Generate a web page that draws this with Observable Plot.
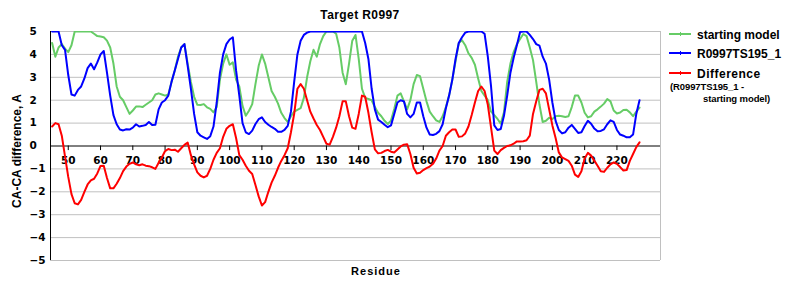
<!DOCTYPE html>
<html><head><meta charset="utf-8">
<script src="https://cdn.jsdelivr.net/npm/d3@7"></script>
<script src="https://cdn.jsdelivr.net/npm/@observablehq/plot@0.6"></script>
<style>
body{margin:0;background:#fff}
#wrap{position:relative;width:800px;height:300px;}
</style></head><body><div id="wrap"></div>
<script>
const firstResidue = 45;
const startingModel = [
 4.5, 3.9, 4.3, 4.45, 4.25, 4.1, 4.4, 5.0, 5.0, 5.0,
 5.0, 5.0, 5.0, 4.9, 4.8, 4.78, 4.75, 4.6, 4.3, 3.6,
 2.6, 2.15, 2.0, 1.7, 1.4, 1.55, 1.72, 1.73, 1.7, 1.8,
 1.9, 2.0, 2.25, 2.3, 2.25, 2.2, 2.25, 2.8, 3.3, 3.9,
 4.3, 4.45, 3.6, 2.8, 2.15, 1.8, 1.79, 1.83, 1.69, 1.62,
 1.47, 1.7, 2.9, 3.6, 4.0, 3.55, 3.65, 2.9, 2.6, 1.75,
 1.32, 1.54, 1.83, 2.7, 3.5, 4.0, 3.6, 3.0, 2.4, 2.15,
 1.85, 1.45, 1.22, 1.05, 1.3, 1.5, 1.58, 1.65, 2.1, 3.0,
 3.7, 4.2, 3.9, 4.45, 4.8, 5.0, 5.0, 5.0, 4.9, 4.3,
 3.2, 2.7, 3.6, 4.6, 4.85, 3.8, 2.5, 2.1, 2.05, 2.0,
 1.7, 1.45, 1.3, 1.1, 0.96, 1.11, 1.62, 2.2, 2.3, 1.95,
 1.6, 2.0, 2.7, 3.1, 3.05, 2.5, 1.95, 1.5, 1.3, 1.12,
 1.05, 1.3, 1.7, 2.2, 2.9, 3.7, 4.5, 4.62, 4.4, 4.05,
 3.85, 3.55, 2.95, 2.4, 2.2, 2.0, 1.5, 1.35, 1.18, 0.98,
 1.47, 2.8, 3.6, 4.1, 4.45, 4.67, 4.89, 4.8, 4.3, 3.75,
 2.8, 1.8, 1.05, 1.1, 1.23, 1.18, 1.3, 1.32, 1.3, 1.27,
 1.3, 1.7, 2.2, 2.2, 1.9, 1.45, 1.25, 1.3, 1.5, 1.6,
 1.72, 1.85, 2.05, 1.95, 1.55, 1.42, 1.46, 1.57, 1.58, 1.47,
 1.3, 1.5, 1.68
];
const targetModel = [
 5, 5, 5, 4.4, 4.2, 3.1, 2.25, 2.2, 2.45, 2.6,
 2.95, 3.4, 3.6, 3.35, 3.65, 4.0, 4.15, 3.2, 2.2, 1.35,
 0.95, 0.72, 0.68, 0.73, 0.72, 0.8, 0.95, 0.85, 0.88, 0.92,
 1.05, 0.92, 0.93, 1.6, 1.9, 2.0, 2.2, 2.8, 3.3, 3.8,
 4.3, 4.45, 3.5, 2.5, 1.4, 0.6, 0.45, 0.38, 0.31, 0.43,
 0.85, 1.9, 3.2, 4.0, 4.45, 4.65, 4.75, 3.3, 2.2, 1.0,
 0.6, 0.52, 0.67, 0.96, 1.17, 1.25, 1.05, 0.93, 0.83, 0.75,
 0.62, 0.62, 0.7, 0.88, 1.5, 2.8, 4.0, 4.6, 4.85, 4.95,
 5, 5, 5, 5, 5, 5, 5, 5, 5, 5,
 5, 5, 5, 5, 5, 5, 5, 4.5, 3.8, 2.5,
 1.6, 1.15, 1.05, 0.93, 0.82, 0.9, 1.4, 1.9, 2.0, 1.95,
 1.4, 1.25, 1.4, 1.9, 1.9, 1.3, 0.8, 0.5, 0.48, 0.53,
 0.65, 0.95, 1.65, 2.2, 2.9, 3.8, 4.5, 4.75, 4.95, 5,
 5, 5, 5, 5, 4.9, 3.9, 2.6, 0.9, 0.7, 0.74,
 1.32, 2.2, 3.2, 3.85, 4.4, 4.98, 5, 5, 4.85, 4.67,
 4.45, 4.38, 3.9, 3.6, 2.9, 1.9, 1.1, 0.7, 0.55, 0.6,
 0.8, 0.92, 0.75, 0.57, 0.6, 0.87, 1.1, 0.97, 0.76, 0.64,
 0.66, 0.73, 0.95, 1.12, 1.05, 0.7, 0.5, 0.45, 0.38, 0.38,
 0.5, 1.4, 2.0
];
const difference = [
 0.85, 1.0, 0.95, 0.45, -0.45, -1.35, -2.1, -2.5, -2.55, -2.35,
 -2.0, -1.68, -1.5, -1.43, -1.2, -0.87, -0.86, -1.4, -1.85, -1.85,
 -1.65, -1.4, -1.1, -0.9, -0.78, -0.72, -0.8, -0.84, -0.8, -0.86,
 -0.88, -0.93, -1.0, -0.73, -0.5, -0.22, -0.13, -0.18, -0.16, -0.25,
 -0.1, 0.05, 0.15, -0.4, -0.8, -1.15, -1.3, -1.37, -1.3, -1.0,
 -0.6, -0.3, -0.1, 0.4, 0.75, 0.88, 0.95, 0.35, -0.4, -0.6,
 -0.86, -1.08, -1.22, -1.7, -2.2, -2.6, -2.45, -2.0, -1.6, -1.3,
 -0.95, -0.65, -0.4, -0.1, 0.6, 1.4, 2.5, 2.7, 2.5, 2.0,
 1.5, 1.2, 0.92, 0.7, 0.4, 0.1, 0.06, 0.4, 0.8, 1.3,
 1.95, 1.95, 1.3, 0.8, 0.75, 1.4, 2.2, 2.15, 1.45, 0.6,
 -0.15, -0.32, -0.3, -0.22, -0.17, -0.25, -0.28, -0.15, -0.02, 0.06,
 0.08, -0.35, -0.95, -1.2, -1.17, -1.05, -0.97, -0.9, -0.78, -0.55,
 -0.2, 0.0, 0.45, 0.6, 0.72, 0.72, 0.4, 0.42, 0.55, 0.85,
 1.35, 1.9, 2.4, 2.6, 2.4, 1.8, 0.8, -0.2, -0.35, -0.18,
 -0.08, 0.0, 0.03, 0.1, 0.2, 0.2, 0.21, 0.25, 0.45, 1.4,
 1.95, 2.45, 2.5, 2.3, 1.6, 0.9, 0.35, -0.28, -0.5, -0.57,
 -0.65, -0.86, -1.25, -1.35, -1.1, -0.55, -0.3, -0.42, -0.64, -0.86,
 -1.1, -1.13, -0.95, -0.8, -0.72, -0.78, -0.92, -1.07, -1.05, -0.65,
 -0.35, -0.05, 0.16
];
const xTicks = [50, 60, 70, 80, 90, 100, 110, 120, 130, 140, 150, 160, 170, 180, 190, 200, 210, 220];
const yTicks = [-5, -4, -3, -2, -1, 0, 1, 2, 3, 4, 5];
const xDomain = [44.5, 233.5];
const seriesNames = ["starting model", "R0997TS195_1", "Difference"];
const seriesColors = ["#66cc66", "#0000ff", "#ff0000"];

const residues = startingModel.map((_, i) => firstResidue + i);
const toRows = (vals) => vals.map((v, i) => ({r: residues[i], v}));
const seriesRows = [toRows(startingModel), toRows(targetModel), toRows(difference)];

const tickFont = {fontFamily: "DejaVu Sans, sans-serif", fontWeight: "bold", fontSize: 10.5, fill: "black"};

const plot = Plot.plot({
  width: 800, height: 300,
  marginLeft: 50, marginRight: 140, marginTop: 31, marginBottom: 40,
  x: {domain: xDomain, axis: null},
  y: {domain: [-5, 5], axis: null},
  style: {background: "white", overflow: "visible"},
  marks: [
    Plot.ruleY(yTicks.filter(d => d !== 0), {stroke: "#c0c0c0", strokeWidth: 1}),
    Plot.ruleX([xDomain[1]], {stroke: "#c0c0c0", strokeWidth: 1}),
    Plot.ruleX([xDomain[0]], {stroke: "black", strokeWidth: 1}),
    Plot.ruleY([0], {stroke: "black", strokeWidth: 1}),
    Plot.ruleX(xTicks, {y1: 0, y2: -0.2, stroke: "black", strokeWidth: 1}),
    Plot.text(yTicks, {y: d => d, text: d => d < 0 ? "\u2212" + (-d) : String(d), frameAnchor: "left", dx: -21, textAnchor: "start", ...tickFont}),
    Plot.text(xTicks, {x: d => d, y: 0, dy: 14.5, text: d => String(d), textAnchor: "middle", ...tickFont}),
    ...seriesRows.map((rows, k) => Plot.line(rows, {x: "r", y: "v", stroke: seriesColors[k], strokeWidth: 2, clip: true})),
  ]
});

document.getElementById("wrap").appendChild(plot);
const svg = d3.select(plot);
const font = "'Liberation Sans', Arial, sans-serif";
const g = svg.append("g").attr("text-anchor", "start").attr("fill", "black");
g.append("text").attr("x", 360).attr("y", 18.5).attr("text-anchor", "middle")
  .attr("font-family", font).attr("font-weight", "bold").attr("font-size", 12).attr("letter-spacing", 0.4)
  .text("Target R0997");
g.append("text").attr("transform", "translate(21,151) rotate(-90)").attr("text-anchor", "middle")
  .attr("font-family", font).attr("font-weight", "bold").attr("font-size", 12)
  .text("CA-CA difference, A");
g.append("text").attr("x", 376).attr("y", 274.5).attr("text-anchor", "middle")
  .attr("font-family", font).attr("font-weight", "bold").attr("font-size", 11).attr("letter-spacing", 1)
  .text("Residue");

const legendY = [34, 53, 73];
const legendTextY = [38.5, 58, 77.5];
seriesNames.forEach((name, k) => {
  g.append("line").attr("x1", 669).attr("x2", 691).attr("y1", legendY[k]).attr("y2", legendY[k])
    .attr("stroke", seriesColors[k]).attr("stroke-width", 2);
  g.append("line").attr("x1", 680.5).attr("x2", 680.5).attr("y1", legendY[k] - 2).attr("y2", legendY[k] + 2)
    .attr("stroke", seriesColors[k]).attr("stroke-width", 1);
  g.append("text").attr("x", 697).attr("y", legendTextY[k]).attr("text-anchor", "start")
    .attr("font-family", font).attr("font-weight", "bold").attr("font-size", 12)
    .attr("letter-spacing", k === 2 ? 0.5 : 0)
    .text(name);
});
g.append("text").attr("x", 670).attr("y", 89.5).attr("text-anchor", "start").attr("font-family", font).attr("font-weight", "bold")
  .attr("font-size", 9.5).attr("letter-spacing", -0.1).text("(R0997TS195_1 -");
g.append("text").attr("x", 703).attr("y", 101.5).attr("text-anchor", "start").attr("font-family", font).attr("font-weight", "bold")
  .attr("font-size", 9.5).attr("letter-spacing", -0.1).text("starting model)");
</script>
</body></html>
